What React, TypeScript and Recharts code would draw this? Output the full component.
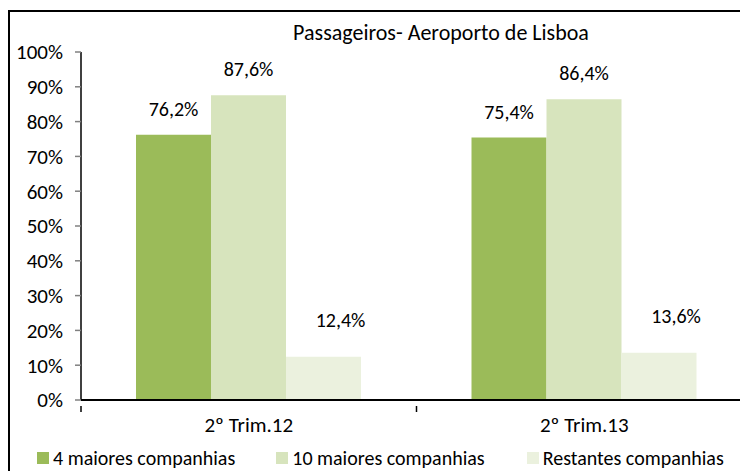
import React from 'react';
import { BarChart, Bar, XAxis, YAxis, Legend, LabelList } from 'recharts';

const categories = ['2º Trim.12', '2º Trim.13'];
const top4 = [76.2, 75.4];
const top10 = [87.6, 86.4];
const others = [12.4, 13.6];
const yTicks = [0, 10, 20, 30, 40, 50, 60, 70, 80, 90, 100];

const series = [
  { key: 'top4', name: '4 maiores companhias', color: '#9BBB59', offset: 19, dx: 0, gap: 41 },
  { key: 'top10', name: '10 maiores companhias', color: '#D7E4BD', offset: 19, dx: 0, gap: 42 },
  { key: 'others', name: 'Restantes companhias', color: '#EBF1DE', offset: 30, dx: 17, gap: 0 },
];

const data = categories.map((c, i) => ({
  name: c,
  top4: top4[i],
  top10: top10[i],
  others: others[i],
}));

const FONT = "Carlito, Calibri, Lato, sans-serif";

const fmt = (v: number) => v.toFixed(1).replace('.', ',') + '%';

const XTick = (props: any) => {
  const { x, y, payload, index } = props;
  const half = payload && payload.offset ? payload.offset : 167;
  return (
    <g>
      {index === 0 && <line x1={x - half} x2={x - half} y1={y - 2} y2={y + 4} stroke="#000" strokeWidth={1.5} />}
      <line x1={x + half} x2={x + half} y1={y - 2} y2={y + 4} stroke="#000" strokeWidth={1.5} />
      <text x={x} y={y + 24} textAnchor="middle" fontSize={21} fontFamily={FONT} fill="#000">
        {payload.value}
      </text>
    </g>
  );
};

const makeLabel = (offset: number, dx: number) => (props: any) => {
  const { x, y, width, value } = props;
  return (
    <text x={x + width / 2 + dx} y={y - offset} textAnchor="middle" fontSize={20} fontFamily={FONT} fill="#000">
      {fmt(value)}
    </text>
  );
};

const LegendContent = () => (
  <div style={{ display: 'flex', height: 24, fontFamily: FONT, fontSize: 20, color: '#000', whiteSpace: 'nowrap', alignItems: 'center' }}>
    {series.map(s => (
      <div key={s.key} style={{ display: 'flex', alignItems: 'center', marginRight: s.gap }}>
        <span style={{ display: 'inline-block', width: 12, height: 12, background: s.color, marginRight: 4 }} />
        <span>{s.name}</span>
      </div>
    ))}
  </div>
);

export default function App() {
  return (
    <div style={{ width: 740, height: 463, overflow: 'hidden' }}>
      <div
        style={{
          position: 'relative',
          marginTop: 2,
          width: 762,
          height: 480,
          border: '2px solid #000',
          boxSizing: 'border-box',
          background: '#fff',
        }}
      >
        <div
          style={{
            position: 'absolute',
            left: 0,
            width: 862,
            top: 7,
            textAlign: 'center',
            fontFamily: FONT,
            fontSize: 22,
            color: '#000',
          }}
        >
          Passageiros- Aeroporto de Lisboa
        </div>
        <BarChart
          width={758}
          height={476}
          data={data}
          margin={{ top: 40, right: 16, left: 0, bottom: 34 }}
          barGap={0}
          barSize={75}
        >
          <XAxis
            dataKey="name"
            height={30}
            axisLine={{ stroke: '#000', strokeWidth: 2 }}
            tickLine={false}
            tick={<XTick />}
            interval={0}
          />
          <YAxis
            width={71}
            domain={[0, 100]}
            ticks={yTicks}
            interval={0}
            tickFormatter={(v: number) => v + '%'}
            axisLine={{ stroke: '#000', strokeWidth: 1.5 }}
            tickLine={{ stroke: '#808080', strokeWidth: 1.5 }}
            tickSize={6}
            tickMargin={12}
            tick={{ fontSize: 21, fontFamily: FONT, fill: '#000' }}
          />
          <Legend
            content={<LegendContent />}
            wrapperStyle={{ position: 'absolute', left: 27, top: 434, width: 740, height: 24 }}
          />
          {series.map(s => (
            <Bar key={s.key} dataKey={s.key} name={s.name} fill={s.color} isAnimationActive={false}>
              <LabelList dataKey={s.key} content={makeLabel(s.offset, s.dx)} />
            </Bar>
          ))}
        </BarChart>
      </div>
    </div>
  );
}
